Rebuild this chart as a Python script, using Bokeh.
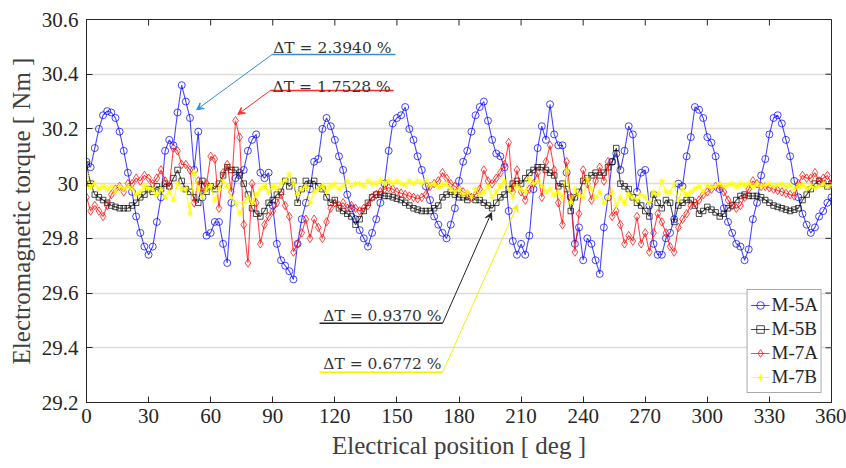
from bokeh.plotting import figure
from bokeh.models import FixedTicker, Arrow, VeeHead, Label, Legend, LegendItem, ColumnDataSource
from bokeh.embed import file_html
from bokeh.resources import INLINE

# Electrical position [deg]
positions = list(range(0, 361, 2))

m5a = [30.08, 30.06, 30.13, 30.20, 30.25, 30.265, 30.26, 30.24, 30.19, 30.12,
       30.04, 29.97, 29.88, 29.82, 29.77, 29.74, 29.77, 29.86, 29.95, 30.12,
       30.16, 30.14, 30.26, 30.36, 30.30, 30.24, 30.05, 30.19, 29.95, 29.81,
       29.82, 29.86, 29.86, 29.78, 29.71, 29.93, 30.02, 30.04, 30.05, 30.12,
       30.16, 30.18, 30.04, 30.02, 30.04, 29.92, 29.78, 29.72, 29.70, 29.68,
       29.65, 29.78, 29.87, 29.93, 29.98, 30.08, 30.09, 30.20, 30.24, 30.21,
       30.16, 30.10, 30.05, 29.96, 29.91, 29.87, 29.83, 29.80, 29.77, 29.82,
       29.87, 29.93, 30.00, 30.12, 30.22, 30.24, 30.25, 30.28, 30.20, 30.16,
       30.10, 30.05, 29.99, 29.94, 29.88, 29.85, 29.82, 29.80, 29.85, 29.91,
       30.01, 30.08, 30.12, 30.19, 30.25, 30.28, 30.30, 30.23, 30.16, 30.11,
       30.10, 30.06, 29.90, 29.79, 29.74, 29.78, 29.74, 29.81, 29.98, 30.13,
       30.21, 30.16, 30.29, 30.18, 30.14, 30.14, 30.04, 29.95, 29.78, 29.84,
       29.72, 29.80, 29.78, 29.72, 29.67, 29.84, 29.95, 30.08, 30.11, 30.05,
       30.12, 30.21, 30.18, 29.97, 30.04, 30.05, 29.92, 29.78, 29.74, 29.74,
       29.80, 29.82, 29.87, 30.00, 29.99, 30.10, 30.17, 30.28, 30.27, 30.24,
       30.17, 30.15, 30.10, 29.98, 29.91, 29.86, 29.82, 29.78, 29.77, 29.72,
       29.76, 29.87, 29.93, 30.03, 30.09, 30.18, 30.24, 30.25, 30.22, 30.16,
       30.10, 30.01, 29.95, 29.89, 29.85, 29.82, 29.84, 29.88, 29.90, 29.93,
       29.95]

m5b = [30.07, 30.00, 29.96, 29.95, 29.94, 29.93, 29.92, 29.915, 29.91, 29.91,
       29.91, 29.92, 29.93, 29.95, 29.96, 29.98, 29.97, 29.99, 29.98, 30.00,
       29.99, 30.02, 30.05, 30.01, 29.98, 29.97, 29.95, 29.93, 30.01, 29.97,
       29.99, 29.98, 30.00, 30.03, 30.06, 30.05, 30.05, 30.03, 30.00, 29.96,
       29.91, 29.89, 29.88, 29.90, 29.93, 29.94, 29.96, 29.97, 30.01, 29.99,
       30.01, 29.93, 29.98, 30.01, 30.00, 30.01, 29.99, 29.98, 29.95, 29.93,
       29.94, 29.91, 29.90, 29.89, 29.88, 29.85, 29.87, 29.90, 29.93, 29.95,
       29.96, 29.96, 29.955, 29.955, 29.95, 29.945, 29.94, 29.93, 29.92, 29.91,
       29.905, 29.90, 29.90, 29.90, 29.91, 29.92, 29.95, 29.96, 29.97, 29.96,
       29.95, 29.95, 29.94, 29.95, 29.94, 29.94, 29.93, 29.92, 29.91, 29.93,
       29.95, 29.96, 29.98, 30.00, 30.01, 30.00, 30.02, 30.04, 30.05, 30.06,
       30.06, 30.05, 30.04, 30.03, 29.99, 30.00, 29.98, 29.90, 29.95, 29.97,
       30.01, 30.02, 30.03, 30.04, 30.03, 30.04, 30.06, 30.08, 30.13, 30.00,
       29.99, 29.98, 29.95, 29.93, 29.92, 29.90, 29.88, 29.96, 29.93, 29.91,
       29.94, 29.93, 29.86, 29.92, 29.93, 29.94, 29.94, 29.92, 29.89, 29.90,
       29.915, 29.905, 29.895, 29.88, 29.89, 29.91, 29.92, 29.94, 29.955, 29.96,
       29.955, 29.955, 29.955, 29.95, 29.94, 29.93, 29.92, 29.915, 29.91, 29.905,
       29.90, 29.905, 29.91, 29.94, 29.96, 29.98, 30.00, 30.01, 30.00, 29.99,
       30.00]

m7a = [29.95, 29.90, 29.92, 29.90, 29.88, 29.92, 29.96, 29.98, 29.99, 29.97,
       30.00, 30.00, 30.02, 30.01, 30.03, 30.02, 30.00, 30.02, 30.05, 30.01,
       29.99, 30.13, 30.12, 30.07, 30.07, 30.05, 29.93, 30.01, 29.97, 30.00,
       30.10, 30.09, 29.91, 30.04, 30.07, 29.97, 30.23, 30.17, 29.85, 29.71,
       30.00, 29.93, 29.78, 29.85, 29.88, 29.90, 29.93, 29.96, 29.92, 29.88,
       29.75, 29.78, 29.82, 29.87, 29.80, 29.87, 29.84, 29.80, 29.86, 29.91,
       29.93, 29.92, 29.93, 29.91, 29.92, 29.91, 29.90, 29.91, 29.92, 29.95,
       29.96, 29.97, 29.98, 29.985, 29.98, 29.97, 29.965, 29.96, 29.955, 29.95,
       29.945, 29.95, 29.96, 29.99, 30.00, 30.01, 30.04, 30.02, 30.00, 29.99,
       29.98, 29.97, 29.96, 29.95, 29.96, 29.98, 30.05, 30.01, 30.00, 30.02,
       30.04, 30.07, 30.15, 29.97, 30.05, 29.97, 29.94, 29.98, 30.00, 30.04,
       29.95, 30.08, 30.14, 30.05, 29.93, 29.85, 30.08, 29.95, 29.75, 29.89,
       30.05, 30.00, 29.94, 30.01, 30.06, 30.01, 30.08, 29.88, 29.90, 29.85,
       29.78, 29.81, 29.79, 29.88, 29.78, 29.82, 29.75, 29.82, 29.89, 29.86,
       29.82, 29.77, 29.75, 29.84, 29.87, 29.89, 29.92, 29.93, 29.94, 29.96,
       29.97, 29.98, 29.99, 29.99, 29.97, 29.94, 29.92, 29.91, 29.92, 29.95,
       29.98, 30.01, 30.00, 29.99, 29.99, 29.985, 29.98, 29.975, 29.97, 29.965,
       29.96, 29.955, 30.00, 30.03, 30.02, 30.02, 30.04, 30.01, 30.02, 30.03,
       30.00]

m7b = [30.03, 29.99, 30.00, 29.98, 29.99, 29.98, 29.99, 29.97, 29.99, 29.98,
       29.99, 29.98, 29.96, 29.97, 29.99, 29.98, 29.98, 29.96, 29.98, 29.95,
       29.97, 29.94, 30.00, 29.98, 29.98, 29.89, 30.04, 29.98, 29.95, 29.98,
       29.99, 29.94, 29.98, 30.01, 29.99, 29.95, 29.93, 29.89, 29.93, 29.95,
       29.93, 29.96, 29.98, 29.99, 29.97, 29.99, 29.98, 30.00, 30.01, 30.035,
       30.00, 29.96, 29.98, 29.99, 29.93, 29.97, 29.98, 29.99, 29.97, 29.99,
       30.00, 29.98, 29.99, 30.01, 29.99, 30.00, 30.00, 29.99, 30.01, 30.00,
       30.00, 30.01, 30.00, 30.01, 30.00, 30.01, 30.00, 29.995, 30.01, 30.00,
       30.01, 30.00, 30.01, 29.995, 30.00, 29.99, 29.995, 30.00, 29.98, 29.97,
       29.98, 29.96, 29.97, 29.95, 29.98, 29.96, 29.97, 29.99, 29.95, 29.97,
       29.99, 30.01, 29.98, 29.95, 29.99, 29.98, 29.97, 30.02, 30.00, 30.01,
       29.99, 29.97, 29.98, 29.96, 29.97, 29.95, 30.05, 29.93, 29.98, 29.96,
       29.95, 30.02, 29.98, 29.95, 29.97, 29.93, 29.95, 29.97, 29.92, 29.95,
       29.93, 29.96, 29.95, 29.94, 29.96, 29.95, 29.93, 29.97, 29.96, 30.01,
       29.97, 29.97, 30.00, 29.94, 29.98, 29.96, 29.97, 29.98, 29.99, 29.97,
       29.995, 29.985, 29.99, 30.00, 29.99, 29.995, 30.00, 29.99, 30.00, 29.995,
       30.00, 29.99, 30.00, 29.99, 29.995, 30.00, 29.99, 29.995, 30.00, 29.99,
       29.995, 29.98, 29.99, 29.995, 29.98, 29.99, 29.985, 29.99, 30.00, 29.99,
       29.995]

series_names = ["M-5A", "M-5B", "M-7A", "M-7B"]

x_ticks = [0, 30, 60, 90, 120, 150, 180, 210, 240, 270, 300, 330, 360]
y_ticks = [29.2, 29.4, 29.6, 29.8, 30.0, 30.2, 30.4, 30.6]
y_tick_labels = ["29.2", "29.4", "29.6", "29.8", "30", "30.2", "30.4", "30.6"]

# Ripple annotations: text, colour, text anchor, underline, arrow tip
ann_texts = ["ΔT = 2.3940 %", "ΔT = 1.7528 %", "ΔT = 0.9370 %", "ΔT = 0.6772 %"]
ann_colors = ["#2f8fd8", "#ff2a2a", "#222222", "#f2f200"]
ann_text_x = [90.2, 89.9, 114.4, 114.4]
ann_text_y = [30.4945, 30.353, 29.5165, 29.342]
ann_ul_x0 = [89.75, 88.9, 112.6, 112.6]
ann_ul_x1 = [149.3, 148.4, 172.1, 172.1]
ann_ul_y = [30.4725, 30.3407, 29.49, 29.311]
ann_tail_x = [89.75, 88.9, 172.1, 172.1]
ann_tip_x = [53.2, 73.1, 195.7, 208.3]
ann_tip_y = [30.27, 30.253, 29.894, 29.923]

source = ColumnDataSource(dict(x=positions, m5a=m5a, m5b=m5b, m7a=m7a, m7b=m7b))

SERIF = "'Liberation Serif', 'Times New Roman', serif"
W, H = 846, 468
ML, MR, MT, MB = 86, 15, 19, 66
X0, X1, Y0, Y1 = 0, 360, 29.2, 30.6

p = figure(width=W, height=H, x_range=(X0, X1), y_range=(Y0, Y1),
           output_backend="svg", toolbar_location=None,
           min_border_left=ML, min_border_right=MR, min_border_top=MT, min_border_bottom=MB)
p.background_fill_color = "white"
p.border_fill_color = "white"
p.outline_line_color = "#262626"
p.outline_line_width = 1

styles = [("m5a", "#0000ff", "circle", 7, 0.72),
          ("m5b", "#000000", "square", 5.5, 0.7),
          ("m7a", "#ff0000", "diamond", 8.5, 0.72),
          ("m7b", "#ffff00", "asterisk", 6.5, 0.9)]
items = []
for name, (col, color, marker, size, alpha) in zip(series_names, styles):
    r1 = p.line("x", col, source=source, line_color=color, line_width=1.1, line_alpha=alpha)
    r2 = p.scatter("x", col, source=source, marker=marker, size=size,
                   line_color=color, fill_color=None, line_alpha=alpha, line_width=1)
    items.append(LegendItem(label=name, renderers=[r1, r2]))

for ax in [p.xaxis[0], p.yaxis[0]]:
    ax.major_tick_in = 6
    ax.major_tick_out = 0
    ax.minor_tick_line_color = None
    ax.axis_line_color = "#262626"
    ax.major_tick_line_color = "#262626"
    ax.major_label_text_font = SERIF
    ax.major_label_text_font_size = "21px"
    ax.major_label_text_color = "#262626"
    ax.axis_label_text_font = SERIF
    ax.axis_label_text_font_size = "25px"
    ax.axis_label_text_font_style = "normal"
    ax.axis_label_text_color = "#404040"

p.xaxis.ticker = FixedTicker(ticks=x_ticks)
p.yaxis.ticker = FixedTicker(ticks=y_ticks)
p.yaxis.major_label_overrides = dict(zip(y_ticks, y_tick_labels))
p.xaxis.axis_label = "Electrical position [ deg ]"
p.yaxis.axis_label = "Electromagnetic torque [ Nm ]"
p.xaxis.major_label_standoff = 6
p.xaxis.axis_label_standoff = 6
p.yaxis.major_label_standoff = 8
p.yaxis.axis_label_standoff = 4

# inward ticks on the top and right edges of the box (6 px long)
fw = W - ML - MR
fh = H - MT - MB
tdy = 6 * (Y1 - Y0) / fh
tdx = 6 * (X1 - X0) / fw
p.segment(x0=x_ticks, y0=[Y1] * len(x_ticks), x1=x_ticks, y1=[Y1 - tdy] * len(x_ticks),
          line_color="#262626", line_width=1)
p.segment(x0=[X1] * len(y_ticks), y0=y_ticks, x1=[X1 - tdx] * len(y_ticks), y1=y_ticks,
          line_color="#262626", line_width=1)

p.xgrid.visible = False
p.ygrid.ticker = FixedTicker(ticks=y_ticks)
p.ygrid.grid_line_color = "#dcdcdc"
p.ygrid.grid_line_width = 1.5

for i in range(4):
    c = ann_colors[i]
    p.segment(x0=[ann_ul_x0[i]], y0=[ann_ul_y[i]], x1=[ann_ul_x1[i]], y1=[ann_ul_y[i]],
              line_color=c, line_width=1.5)
    p.add_layout(Arrow(end=VeeHead(size=7, line_color=c, line_width=1, fill_color=c),
                       x_start=ann_tail_x[i], y_start=ann_ul_y[i],
                       x_end=ann_tip_x[i], y_end=ann_tip_y[i],
                       line_color=c, line_width=1))
    p.add_layout(Label(x=ann_text_x[i], y=ann_text_y[i], text=ann_texts[i],
                       text_font="DejaVu Serif", text_font_size="15.5px",
                       text_color="#333333", text_baseline="alphabetic", text_align="left"))

legend = Legend(items=items, location="bottom_right", margin=9,
                border_line_color="#555555", border_line_width=1,
                background_fill_color="white", background_fill_alpha=1,
                label_text_font=SERIF, label_text_font_size="19px", label_text_color="#262626",
                glyph_width=19, glyph_height=24, label_height=24, label_standoff=2,
                spacing=0, padding=3)
p.add_layout(legend)

open("out.html", "w").write(file_html(p, INLINE))
